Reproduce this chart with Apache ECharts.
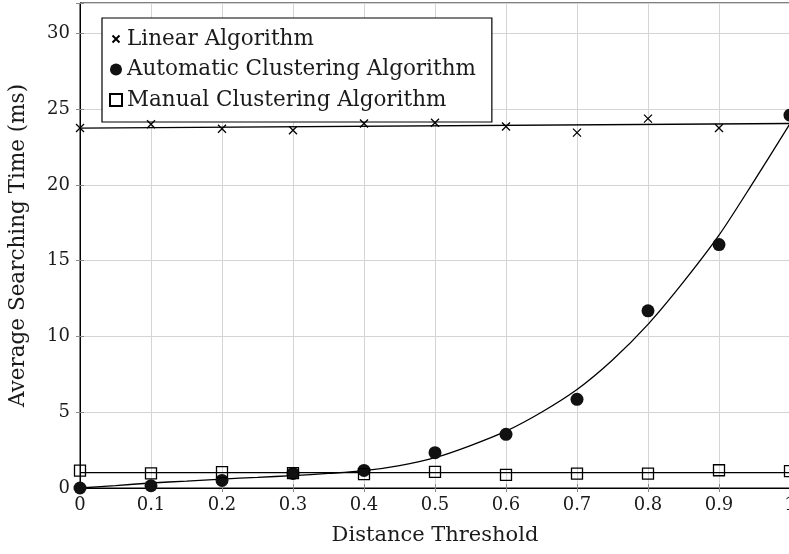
<!DOCTYPE html>
<html>
<head>
<meta charset="utf-8">
<script src="https://cdn.jsdelivr.net/npm/echarts@6/dist/echarts.min.js"></script>
<style>
html,body{margin:0;padding:0;background:#fff;}
#chart{width:789px;height:554px;}
</style>
</head>
<body>
<div id="chart"></div>
<script>
// Data
const xValues = [0, 0.1, 0.2, 0.3, 0.4, 0.5, 0.6, 0.7, 0.8, 0.9, 1.0];
const linearTimes = [23.75, 24.0, 23.7, 23.6, 24.05, 24.1, 23.85, 23.45, 24.37, 23.75, 24.6];
const autoTimes = [0.0, 0.15, 0.5, 0.96, 1.16, 2.33, 3.54, 5.85, 11.69, 16.06, 24.6];
const manualTimes = [1.14, 0.96, 1.05, 0.98, 0.92, 1.07, 0.86, 0.95, 0.95, 1.17, 1.12];

// Fitted trend lines
const linearFitX = [0, 1];
const linearFitY = [23.75, 24.05];
const manualFitX = [0, 1];
const manualFitY = [1.01, 1.01];
const autoFitX = [0, 0.05, 0.1, 0.15, 0.2, 0.25, 0.3, 0.35, 0.4, 0.45, 0.5, 0.55, 0.6, 0.65, 0.7, 0.75, 0.8, 0.85, 0.9, 0.95, 1.0];
const autoFitY = [0, 0.16, 0.33, 0.46, 0.59, 0.70, 0.82, 0.96, 1.14, 1.48, 2.0, 2.8, 3.75, 5.0, 6.5, 8.45, 10.8, 13.6, 16.68, 20.3, 24.04];

const seriesNames = ['Linear Algorithm', 'Automatic Clustering Algorithm', 'Manual Clustering Algorithm'];
const xTickLabels = ['0', '0.1', '0.2', '0.3', '0.4', '0.5', '0.6', '0.7', '0.8', '0.9', '1'];
const yTickLabels = ['0', '5', '10', '15', '20', '25', '30'];

const pair = (xs, ys) => xs.map((x, i) => [x, ys[i]]);
const FONT = 'DejaVu Serif';
const crossPath = 'path://M0,0M12,12M2.5,2.5L9.5,9.5M9.5,2.5L2.5,9.5';
const crossPathMark = 'path://M0,0L10,10M10,0L0,10';
const TEXT = '#1a1a1a';

const tickOnly = {
  axisLine: {show: false},
  axisTick: {show: true, inside: true, length: 4, lineStyle: {color: '#888'}},
  axisLabel: {show: false},
  splitLine: {show: false}
};

const chart = echarts.init(document.getElementById('chart'), null, {renderer: 'canvas'});
chart.setOption({
  animation: false,
  backgroundColor: '#fff',
  grid: {left: 80, top: 3, width: 710, bottom: 66, show: true, borderColor: '#000', borderWidth: 1,
         backgroundColor: '#fff', containLabel: false, outerBoundsMode: 'none'},
  legend: {
    orient: 'vertical',
    left: 102, top: 18,
    padding: [10, 16, 11, 7],
    itemGap: 8.5,
    itemWidth: 12, itemHeight: 12,
    backgroundColor: '#fff',
    borderColor: '#000', borderWidth: 1.2, borderRadius: 0,
    textStyle: {fontFamily: FONT, fontSize: 21.5, color: TEXT, lineHeight: 22},
    data: [
      {name: seriesNames[0], icon: crossPath},
      {name: seriesNames[1], icon: 'circle'},
      {name: seriesNames[2], icon: 'rect'}
    ],
    selectedMode: false
  },
  xAxis: [{
    type: 'value', min: 0, max: 1, interval: 0.1,
    name: 'Distance Threshold', nameLocation: 'middle', nameGap: 37,
    nameTextStyle: {fontFamily: FONT, fontSize: 21, color: TEXT},
    axisLine: {show: true, onZero: false, lineStyle: {color: '#000', width: 1}},
    axisTick: {show: true, inside: true, length: 4, lineStyle: {color: '#888'}},
    axisLabel: {fontFamily: FONT, fontSize: 18, color: TEXT, margin: 8,
      formatter: v => { const i = Math.round(v * 10); return xTickLabels[i] !== undefined ? xTickLabels[i] : ''; }},
    splitLine: {show: true, lineStyle: {color: '#d4d4d4', width: 1}}
  }, Object.assign({type: 'value', position: 'top', min: 0, max: 1, interval: 0.1}, tickOnly)],
  yAxis: [{
    type: 'value', min: 0, max: 32, interval: 5,
    name: 'Average Searching Time (ms)', nameLocation: 'middle', nameGap: 51,
    nameTextStyle: {fontFamily: FONT, fontSize: 21.5, color: TEXT},
    axisLine: {show: true, onZero: false, lineStyle: {color: '#000', width: 1}},
    axisTick: {show: true, inside: true, length: 4, lineStyle: {color: '#888'}},
    axisLabel: {fontFamily: FONT, fontSize: 18, color: TEXT, margin: 10,
      formatter: v => (yTickLabels.indexOf(String(v)) >= 0) ? String(v) : ''},
    splitLine: {show: true, lineStyle: {color: '#d4d4d4', width: 1}}
  }, Object.assign({type: 'value', position: 'right', min: 0, max: 32, interval: 5}, tickOnly)],
  series: [
    {name: 'linfit', type: 'line', data: pair(linearFitX, linearFitY), showSymbol: false, lineStyle: {color: '#000', width: 1.3}, z: 3, silent: true},
    {name: 'manfit', type: 'line', data: pair(manualFitX, manualFitY), showSymbol: false, lineStyle: {color: '#000', width: 1.3}, z: 3, silent: true},
    {name: 'autofit', type: 'line', data: pair(autoFitX, autoFitY), showSymbol: false, smooth: 0.3, lineStyle: {color: '#000', width: 1.3}, z: 3, silent: true},
    {name: seriesNames[0], type: 'scatter', data: pair(xValues, linearTimes), symbol: crossPathMark, symbolSize: 8,
      itemStyle: {color: 'transparent', borderColor: '#000', borderWidth: 1.3, opacity: 1}, z: 4},
    {name: seriesNames[1], type: 'scatter', data: pair(xValues, autoTimes), symbol: 'circle', symbolSize: 13,
      itemStyle: {color: '#111', borderColor: '#111', borderWidth: 0, opacity: 1}, z: 4},
    {name: seriesNames[2], type: 'scatter', data: pair(xValues, manualTimes), symbol: 'rect', symbolSize: 11,
      itemStyle: {color: 'transparent', borderColor: '#000', borderWidth: 1.3, opacity: 1}, z: 4}
  ]
});
</script>
</body>
</html>
